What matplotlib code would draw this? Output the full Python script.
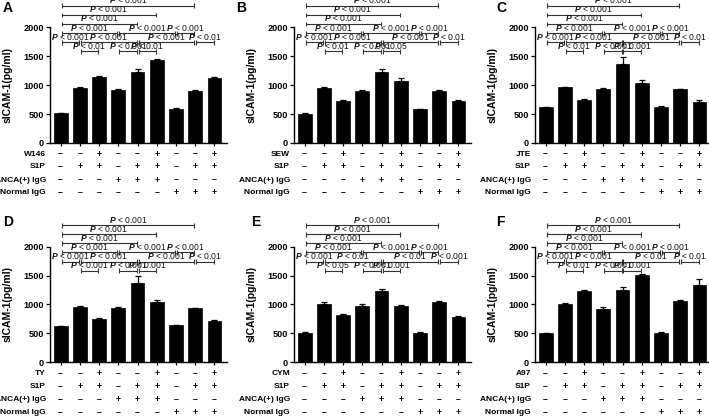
"""sICAM-1 levels under S1P receptor agonists/antagonists, six panels A-F."""

import matplotlib
matplotlib.use("Agg")
import matplotlib.pyplot as plt
import numpy as np

plt.rcParams["font.family"] = ["Liberation Sans", "DejaVu Sans"]
plt.rcParams["mathtext.fontset"] = "custom"
plt.rcParams["mathtext.rm"] = "Liberation Sans"
plt.rcParams["mathtext.bfit"] = "Liberation Sans:italic:bold"

# ---- data -------------------------------------------------------------
letters = ["A", "B", "C", "D", "E", "F"]
drugs = ["W146", "SEW", "JTE", "TY", "CYM", "A97"]

values_A = [510, 945, 1140, 910, 1230, 1430, 590, 905, 1120]
errors_A = [15, 15, 25, 15, 55, 30, 15, 15, 15]
values_B = [505, 950, 730, 905, 1230, 1075, 580, 900, 720]
errors_B = [15, 15, 15, 15, 50, 40, 15, 15, 15]
values_C = [615, 960, 735, 940, 1370, 1045, 630, 930, 710]
errors_C = [10, 10, 20, 15, 120, 40, 10, 10, 25]
values_D = [620, 960, 740, 940, 1375, 1050, 640, 935, 710]
errors_D = [10, 10, 20, 15, 120, 35, 10, 10, 25]
values_E = [510, 1000, 825, 965, 1225, 970, 515, 1035, 790]
errors_E = [10, 45, 15, 45, 40, 20, 10, 20, 10]
values_F = [500, 1005, 1225, 925, 1250, 1505, 510, 1060, 1340]
errors_F = [10, 25, 25, 35, 45, 20, 10, 20, 100]

drug_row = ["–", "–", "+", "–", "–", "+", "–", "–", "+"]
s1p_row = ["–", "+", "+", "–", "+", "+", "–", "+", "+"]
anca_row = ["–", "–", "–", "+", "+", "+", "–", "–", "–"]
normal_row = ["–", "–", "–", "–", "–", "–", "+", "+", "+"]

# compared bar pairs (0-based) and the tier each bracket sits on
bracket_pairs = [(0, 7), (0, 5), (0, 4),
                 (0, 3), (3, 6), (6, 7),
                 (0, 1), (1, 4), (4, 7), (7, 8),
                 (1, 2), (3, 4), (4, 5)]
bracket_tiers = [5, 4, 3, 2, 2, 2, 1, 1, 1, 1, 0, 0, 0]

p_A = ["0.001"] * 9 + ["0.01", "0.01", "0.001", "0.01"]
p_B = ["0.001"] * 9 + ["0.01", "0.01", "0.001", "0.05"]
p_C = ["0.001"] * 9 + ["0.01", "0.01", "0.001", "0.001"]
p_D = ["0.001"] * 9 + ["0.01", "0.001", "0.001", "0.001"]
p_E = ["0.001"] * 7 + ["0.01", "0.01", "0.001", "0.05", "0.001", "0.001"]
p_F = ["0.001"] * 8 + ["0.01", "0.01", "0.01", "0.001", "0.001"]

panels = [
    (values_A, errors_A, p_A), (values_B, errors_B, p_B), (values_C, errors_C, p_C),
    (values_D, errors_D, p_D), (values_E, errors_E, p_E), (values_F, errors_F, p_F),
]

# ---- layout (pixels of the 709x418 canvas) ------------------------------
W, H = 709, 418
AX_LEFT = [50, 294, 535]
AX_ZERO = [143, 362.3]
AX_W, AX_H = 177, 115.7
LETTER_X = [3, 236, 496, 3, 251, 496]
LETTER_Y = [8.5, 8.5, 8.5, 222, 222, 222]
ROW_OFFSETS = [11, 24, 37, 50]  # px below the x axis
LINE_C = "#333333"


def draw_bracket(ax, x1, x2, y, label):
    x1, x2 = x1 + 0.05, x2 - 0.05
    kw = dict(color=LINE_C, lw=0.8, clip_on=False, solid_capstyle="butt")
    ax.plot([x1, x2], [y, y], **kw)
    ax.plot([x1, x1], [y - 42, y + 42], **kw)
    ax.plot([x2, x2], [y - 42, y + 42], **kw)
    ax.text((x1 + x2) / 2, y + 10, r"$\mathbfit{P}$ < " + label,
            ha="center", va="bottom", fontsize=6.2, color="#111111", clip_on=False)


def draw_panel(ax, values, errors, plabels, drug):
    x = np.arange(len(values))
    ax.bar(x, values, width=0.72, color="black", edgecolor="black", lw=0.5)
    ax.errorbar(x, values, yerr=[np.zeros(len(errors)), errors], fmt="none",
                ecolor="black", elinewidth=0.9, capsize=2.2, capthick=0.9)
    ax.set_xlim(-0.55, 8.65)
    ax.set_ylim(0, 2000)
    ax.set_yticks([0, 500, 1000, 1500, 2000])
    ax.set_xticks(x)
    ax.set_xticklabels([])
    for s in ("top", "right"):
        ax.spines[s].set_visible(False)
    for s in ("left", "bottom"):
        ax.spines[s].set_linewidth(1.0)
    ax.tick_params(axis="y", length=3, width=0.9, pad=1.5, labelsize=6.6)
    ax.tick_params(axis="x", length=2.5, width=0.9)
    for lab in ax.get_yticklabels():
        lab.set_fontweight("bold")
    ax.set_ylabel("sICAM-1(pg/ml)", fontsize=7.5, fontweight="bold")
    ax.yaxis.set_label_coords(-37 / AX_W, 0.5)

    for (i, j), tier, lab in zip(bracket_pairs, bracket_tiers, plabels):
        draw_bracket(ax, x[i], x[j], 1585 + 157 * tier, lab)

    rows = [(drug, drug_row), ("S1P", s1p_row),
            ("ANCA(+) IgG", anca_row), ("Normal IgG", normal_row)]
    trans = ax.get_xaxis_transform()
    for (name, signs), off in zip(rows, ROW_OFFSETS):
        yf = -off / AX_H
        ax.text(-0.76, yf, name, transform=trans, ha="right", va="center",
                fontsize=6.0, fontweight="bold", clip_on=False)
        for xi, sg in zip(x, signs):
            ax.text(xi, yf, sg, transform=trans, ha="center", va="center",
                    fontsize=6.2, fontweight="bold", clip_on=False)


fig = plt.figure(figsize=(W / 100, H / 100), dpi=100)
for k, (vals, errs, plabs) in enumerate(panels):
    r, c = divmod(k, 3)
    ax = fig.add_axes([AX_LEFT[c] / W, (H - AX_ZERO[r]) / H, AX_W / W, AX_H / H])
    draw_panel(ax, vals, errs, plabs, drugs[k])
    fig.text(LETTER_X[k] / W, 1 - LETTER_Y[k] / H, letters[k], fontsize=10,
             fontweight="bold", ha="left", va="center")

fig.savefig("out.png", dpi=100)
